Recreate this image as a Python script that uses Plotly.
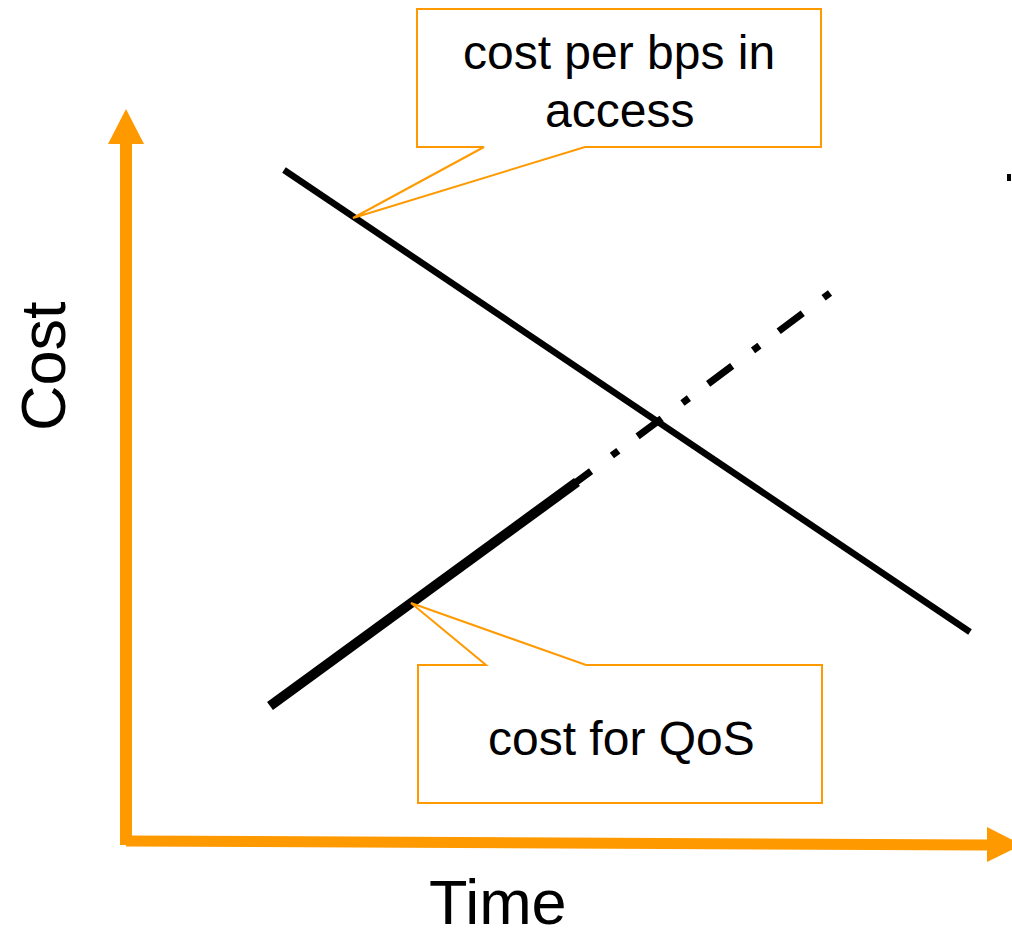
import plotly.graph_objects as go

# ---- data (time / cost units, origin at the axes corner) ----
access_time = [158, 844]
access_cost = [671, 209]

qos_time = [144, 451]
qos_cost = [135, 359]

# projected QoS (starts a little inside the solid part, hidden beneath it)
qos_proj_time = [441, 704]
qos_proj_cost = [352, 548]

axis_title_x = "Time"
axis_title_y = "Cost"
label_access = ["cost per bps in", "access"]
label_qos = "cost for QoS"

ORANGE = "#FF9900"
FONT = "Arial, Liberation Sans, sans-serif"

fig = go.Figure()

# axes arrows (shafts)
fig.add_trace(go.Scatter(x=[0, 0], y=[-4, 697], mode="lines",
                         line=dict(color=ORANGE, width=12), hoverinfo="skip"))
fig.add_trace(go.Scatter(x=[0, 861], y=[0, -4], mode="lines",
                         line=dict(color=ORANGE, width=11), hoverinfo="skip"))
# arrowheads
fig.add_trace(go.Scatter(x=[-18, 18, 0, -18], y=[697, 697, 732, 697], mode="lines",
                         fill="toself", fillcolor=ORANGE,
                         line=dict(color=ORANGE, width=0), hoverinfo="skip"))
fig.add_trace(go.Scatter(x=[861, 861, 896, 861], y=[14, -21, -4, 14], mode="lines",
                         fill="toself", fillcolor=ORANGE,
                         line=dict(color=ORANGE, width=0), hoverinfo="skip"))

# series
fig.add_trace(go.Scatter(x=qos_proj_time, y=qos_proj_cost, mode="lines",
                         line=dict(color="black", width=7, dash="30px,26px,8px,24px"),
                         hoverinfo="skip"))
fig.add_trace(go.Scatter(x=access_time, y=access_cost, mode="lines",
                         line=dict(color="black", width=6.5), hoverinfo="skip"))
fig.add_trace(go.Scatter(x=qos_time, y=qos_cost, mode="lines",
                         line=dict(color="black", width=10), hoverinfo="skip"))
# small cut-off mark at right edge
fig.add_trace(go.Scatter(x=[883, 883], y=[667, 660], mode="lines",
                         line=dict(color="black", width=4), hoverinfo="skip"))

# callouts
top_box = "M 291 832 L 695 832 L 695 694 L 459 694 L 227 623 L 358 694 L 291 694 Z"
bot_box = "M 292 38 L 292 176 L 360 176 L 285 238 L 460 176 L 696 176 L 696 38 Z"
for p in (top_box, bot_box):
    fig.add_shape(type="path", path=p, xref="x", yref="y",
                  line=dict(color=ORANGE, width=2), fillcolor="white", layer="above")

ann = [
    dict(x=493, y=789, text=label_access[0], size=48),
    dict(x=493, y=731, text=label_access[1], size=48),
    dict(x=495, y=103, text=label_qos, size=48),
    dict(x=372, y=-61, text=axis_title_x, size=63),
]
for a in ann:
    fig.add_annotation(x=a["x"], y=a["y"], xref="x", yref="y", text=a["text"],
                       showarrow=False, xanchor="center", yanchor="middle",
                       font=dict(family=FONT, size=a["size"], color="black"))
fig.add_annotation(x=-83, y=475, xref="x", yref="y", text=axis_title_y,
                   showarrow=False, textangle=-90, xanchor="center", yanchor="middle",
                   font=dict(family=FONT, size=63, color="black"))

fig.update_layout(
    width=1012, height=928,
    margin=dict(l=0, r=0, t=0, b=0),
    paper_bgcolor="white", plot_bgcolor="white",
    showlegend=False,
    xaxis=dict(range=[-126, 886], visible=False, fixedrange=True),
    yaxis=dict(range=[-87, 841], visible=False, fixedrange=True),
)

fig.write_html("out.html", config={"displayModeBar": False},
               post_script="document.body.style.margin='0';document.body.style.overflow='hidden';")
